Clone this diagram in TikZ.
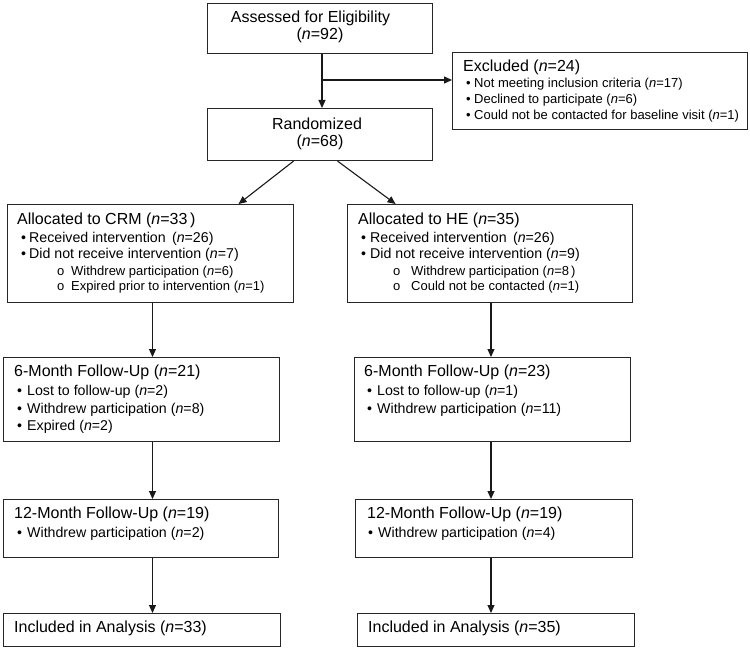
\documentclass[tikz,border=0pt]{standalone}
\usepackage{fontspec}
\setmainfont{Liberation Sans}
\usetikzlibrary{arrows.meta}
\newcommand\nn{\textit{n}}
\begin{document}
\begin{tikzpicture}[x=1pt,y=-1pt,
  box/.style={draw=black!85, line width=1.1pt, inner sep=0pt, anchor=north west},
  arr/.style={line width=1.1pt, black!90, -{Triangle[length=8pt,width=7pt]}},
  hd/.style={anchor=base west, inner sep=0pt, font=\fontsize{16}{18}\selectfont},
  hc/.style={anchor=base, inner sep=0pt, font=\fontsize{16}{18}\selectfont},
  bl/.style={anchor=base west, inner sep=0pt, font=\fontsize{14.2}{16}\selectfont},
  sb/.style={anchor=base west, inner sep=0pt, font=\fontsize{13}{15}\selectfont}]
\fill[white] (0,0) rectangle (750,650);
\useasboundingbox (0,0) rectangle (750,650);

% boxes
\node[box, minimum width=225pt, minimum height=50pt] (assess) at (207,3) {};
\node[box, minimum width=225pt, minimum height=52pt] (rand) at (207,108) {};
\node[box, minimum width=295pt, minimum height=77pt] (excl) at (452,52) {};
\node[box, minimum width=286pt, minimum height=98pt] (crm) at (7,204) {};
\node[box, minimum width=285pt, minimum height=98pt] (he) at (347,204) {};
\node[box, minimum width=276pt, minimum height=84pt] (m6L) at (3,357) {};
\node[box, minimum width=276pt, minimum height=84pt] (m6R) at (354,357) {};
\node[box, minimum width=275pt, minimum height=58pt] (m12L) at (3,499) {};
\node[box, minimum width=277pt, minimum height=58pt] (m12R) at (355,499) {};
\node[box, minimum width=277pt, minimum height=33pt] (incL) at (3,613) {};
\node[box, minimum width=277pt, minimum height=33pt] (incR) at (357,613) {};

% texts
\node[hc] (t1) at (310.5,22.5) {Assessed for Eligibility};
\node[hc] (t2) at (320,39.5) {(\nn=92)};
\node[hc] (t3) at (317,129.5) {Randomized};
\node[hc] (t4) at (320,146.5) {(\nn=68)};

\node[hd] (e0) at (463,72) {Excluded (\nn=24)};
\node[sb] (e1b) at (466,88) {•};
\node[sb] (e1) at (474,88) {Not meeting inclusion criteria (\nn=17)};
\node[sb] (e2b) at (466,104) {•};
\node[sb] (e2) at (474,104) {Declined to participate (\nn=6)};
\node[sb] (e3b) at (466,120) {•};
\node[sb] (e3) at (474,120) {Could not be contacted for baseline visit (\nn=1)};

\node[hd] (c0) at (17,224) {Allocated to CRM (\nn=33\,)};
\node[bl] (c1b) at (21,242) {•};
\node[bl] (c1) at (29,242) {Received intervention\, (\nn=26)};
\node[bl] (c2b) at (21,258) {•};
\node[bl] (c2) at (29,258) {Did not receive intervention (\nn=7)};
\node[sb] (c3b) at (57,275) {o};
\node[sb] (c3) at (71,275) {Withdrew participation (\nn=6)};
\node[sb] (c4b) at (57,290) {o};
\node[sb] (c4) at (71,290) {Expired prior to intervention (\nn=1)};

\node[hd] (h0) at (358,224) {Allocated to HE (\nn=35)};
\node[bl] (h1b) at (361,242) {•};
\node[bl] (h1) at (370,242) {Received intervention\, (\nn=26)};
\node[bl] (h2b) at (361,258) {•};
\node[bl] (h2) at (370,258) {Did not receive intervention (\nn=9)};
\node[sb] (h3b) at (393,275) {o};
\node[sb] (h3) at (411,275) {Withdrew participation (\nn=8\,)};
\node[sb] (h4b) at (393,290) {o};
\node[sb] (h4) at (411,290) {Could not be contacted (\nn=1)};

\node[hd] (a0) at (14,376) {6-Month Follow-Up (\nn=21)};
\node[bl] (a1b) at (17,395) {•};
\node[bl] (a1) at (27,395) {Lost to follow-up (\nn=2)};
\node[bl] (a2b) at (17,413) {•};
\node[bl] (a2) at (27,413) {Withdrew participation (\nn=8)};
\node[bl] (a3b) at (17,430) {•};
\node[bl] (a3) at (27,430) {Expired (\nn=2)};

\node[hd] (b0) at (364,376) {6-Month Follow-Up (\nn=23)};
\node[bl] (b1b) at (367,395) {•};
\node[bl] (b1) at (377,395) {Lost to follow-up (\nn=1)};
\node[bl] (b2b) at (367,413) {•};
\node[bl] (b2) at (377,413) {Withdrew participation (\nn=11)};

\node[hd] (d0) at (14,518) {12-Month Follow-Up (\nn=19)};
\node[bl] (d1b) at (17,537) {•};
\node[bl] (d1) at (27,537) {Withdrew participation (\nn=2)};

\node[hd] (f0) at (367,518) {12-Month Follow-Up (\nn=19)};
\node[bl] (f1b) at (368,537) {•};
\node[bl] (f1) at (378,537) {Withdrew participation (\nn=4)};

\node[hd] (g0) at (14,632) {Included in Analysis (\nn=33)};
\node[hd] (g1) at (368,632) {Included in Analysis (\nn=35)};

% connectors
\coordinate (cM) at (322,0);
\coordinate (cL) at (152.5,0);
\coordinate (cR) at (491,0);
\coordinate (br) at (322,80);
\draw[arr] (assess.south -| cM) -- (rand.north -| cM);
\draw[arr] (br) -- (br -| excl.west);
\draw[arr] ([xshift=-26.5pt]rand.south) -- ([xshift=88pt]crm.north);
\draw[arr] ([xshift=17.5pt]rand.south) -- ([xshift=-94.5pt]he.north);
\draw[arr] (crm.south -| cL) -- (m6L.north -| cL);
\draw[arr] (he.south -| cR) -- (m6R.north -| cR);
\draw[arr] (m6L.south -| cL) -- (m12L.north -| cL);
\draw[arr] (m6R.south -| cR) -- (m12R.north -| cR);
\draw[arr] (m12L.south -| cL) -- (incL.north -| cL);
\draw[arr] (m12R.south -| cR) -- (incR.north -| cR);
\end{tikzpicture}
\end{document}
